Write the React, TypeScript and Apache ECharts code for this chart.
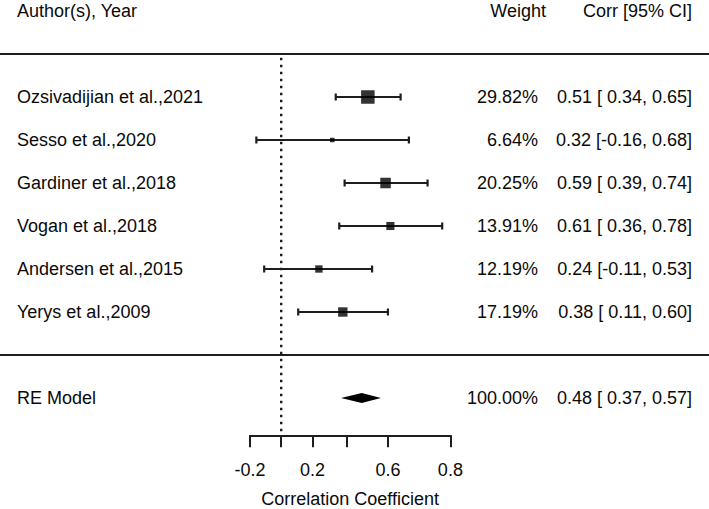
import React, { useEffect, useRef } from "react";
import * as echarts from "echarts";

const studies = [
  "Ozsivadijian et al.,2021",
  "Sesso et al.,2020",
  "Gardiner et al.,2018",
  "Vogan et al.,2018",
  "Andersen et al.,2015",
  "Yerys et al.,2009",
];
const weights = [29.82, 6.64, 20.25, 13.91, 12.19, 17.19];
const corr = [0.51, 0.32, 0.59, 0.61, 0.24, 0.38];
const lower = [0.34, -0.16, 0.39, 0.36, -0.11, 0.11];
const upper = [0.65, 0.68, 0.74, 0.78, 0.53, 0.6];

const reLabel = "RE Model";
const reWeight = 100;
const reCorr = 0.48;
const reLower = 0.37;
const reUpper = 0.57;

const headers = ["Author(s), Year", "Weight", "Corr [95% CI]"];
const tickValues = [-0.2, 0, 0.2, 0.4, 0.6, 0.8];
const labelValues = [-0.2, 0.2, 0.6, 0.8];
const axisTitle = "Correlation Coefficient";

// layout
const W = 709;
const H = 509;
const X0 = 281.2; // pixel of z = 0
const PX = 154; // pixels per z unit
const Y0 = 355; // pixel of row 0
const PY = 43; // pixels per row
const FS = 18;
const FONT = "'Liberation Sans', Arial, Helvetica, sans-serif";
const INK = "#0a0a0a";
const LINE = "#1e1e1e";

const z = (r: number) => Math.atanh(r);
const fmt2 = (v: number) => (v < 0 ? "" : " ") + v.toFixed(2);
const corrText = (e: number, l: number, u: number) =>
  `${e.toFixed(2)} [${fmt2(l)}, ${u.toFixed(2)}]`;

export default function App() {
  const ref = useRef<HTMLDivElement>(null);
  useEffect(() => {
    if (!ref.current) return;
    const chart = echarts.init(ref.current, null, { renderer: "svg" });
    const k = studies.length;
    const rows = studies.map((_, i) => k - i);
    const xMin = -X0 / PX;
    const xMax = (W - X0) / PX;
    const yMax = Y0 / PY;
    const yMin = (Y0 - H) / PY;

    const sq = weights.map((w) => Math.sqrt(w));
    const sMin = Math.min(...sq);
    const sMax = Math.max(...sq);
    const sizeOf = (w: number) => 4.5 + ((Math.sqrt(w) - sMin) / (sMax - sMin)) * 9;

    const axisLeft = X0 + PX * z(tickValues[0]);
    const axisRight = X0 + PX * z(tickValues[tickValues.length - 1]);

    const textRows = studies.map((s, i) => [
      rows[i],
      s,
      weights[i].toFixed(2) + "%",
      corrText(corr[i], lower[i], upper[i]),
    ]);
    textRows.push([-1, reLabel, reWeight.toFixed(2) + "%", corrText(reCorr, reLower, reUpper)]);

    const textStyle = (t: string, x: number, y: number, align: string) => ({
      type: "text",
      x,
      y,
      style: {
        text: t,
        fill: INK,
        font: `${FS}px ${FONT}`,
        textAlign: align,
        textVerticalAlign: "middle",
      },
    });

    const option: any = {
      animation: false,
      grid: [
        { left: 0, top: 0, width: W, height: H },
        { left: axisLeft, width: axisRight - axisLeft, top: 435, height: 1 },
      ],
      xAxis: [
        { gridIndex: 0, type: "value", min: xMin, max: xMax, show: false },
        {
          gridIndex: 1,
          type: "value",
          min: z(tickValues[0]),
          max: z(tickValues[tickValues.length - 1]),
          position: "bottom",
          axisLine: { show: true, lineStyle: { color: LINE, width: 2 } },
          axisTick: {
            show: true,
            length: 12,
            lineStyle: { color: LINE, width: 2 },
            customValues: tickValues.map(z),
          },
          axisLabel: {
            show: true,
            customValues: labelValues.map(z),
            formatter: (v: number) => Math.tanh(v).toFixed(1),
            fontSize: FS,
            fontFamily: FONT,
            color: INK,
            margin: 26,
          },
          splitLine: { show: false },
          name: axisTitle,
          nameLocation: "middle",
          nameGap: 55,
          nameTextStyle: { fontSize: FS, fontFamily: FONT, color: INK },
        },
      ],
      yAxis: [
        { gridIndex: 0, type: "value", min: yMin, max: yMax, show: false },
        { gridIndex: 1, type: "value", min: 0, max: 1, show: false },
      ],
      series: [
        {
          type: "line",
          silent: true,
          symbol: "none",
          data: [
            [xMin, k + 1],
            [xMax, k + 1],
          ],
          lineStyle: { color: LINE, width: 2 },
        },
        {
          type: "line",
          silent: true,
          symbol: "none",
          data: [
            [xMin, 0],
            [xMax, 0],
          ],
          lineStyle: { color: LINE, width: 2 },
        },
        {
          type: "line",
          silent: true,
          symbol: "none",
          data: [
            [0, k + 0.91],
            [0, -1.82],
          ],
          lineStyle: { color: LINE, width: 2.4, type: [2.4, 4.6] },
        },
        {
          type: "custom",
          silent: true,
          data: studies.map((_, i) => [z(lower[i]), z(upper[i]), rows[i]]),
          encode: { x: [0, 1], y: 2 },
          renderItem: (params: any, api: any) => {
            const a = api.coord([api.value(0), api.value(2)]);
            const b = api.coord([api.value(1), api.value(2)]);
            const st = { stroke: LINE, lineWidth: 2.2 };
            return {
              type: "group",
              children: [
                { type: "line", shape: { x1: a[0], y1: a[1], x2: b[0], y2: b[1] }, style: st },
                { type: "line", shape: { x1: a[0], y1: a[1] - 3.5, x2: a[0], y2: a[1] + 3.5 }, style: st },
                { type: "line", shape: { x1: b[0], y1: b[1] - 3.5, x2: b[0], y2: b[1] + 3.5 }, style: st },
              ],
            };
          },
        },
        {
          type: "scatter",
          silent: true,
          symbol: "rect",
          data: studies.map((_, i) => [z(corr[i]), rows[i], weights[i]]),
          symbolSize: (v: number[]) => sizeOf(v[2]),
          itemStyle: { color: "#000" },
        },
        {
          type: "custom",
          silent: true,
          data: [[z(reLower), z(reCorr), z(reUpper), -1]],
          encode: { x: [0, 1, 2], y: 3 },
          renderItem: (params: any, api: any) => {
            const l = api.coord([api.value(0), api.value(3)]);
            const c = api.coord([api.value(1), api.value(3)]);
            const u = api.coord([api.value(2), api.value(3)]);
            return {
              type: "polygon",
              shape: {
                points: [
                  [l[0], l[1]],
                  [c[0], c[1] - 5],
                  [u[0], u[1]],
                  [c[0], c[1] + 5],
                ],
              },
              style: { fill: "#000" },
            };
          },
        },
        {
          type: "custom",
          silent: true,
          data: textRows,
          encode: { y: 0 },
          renderItem: (params: any, api: any) => {
            const row = textRows[params.dataIndex];
            const y = api.coord([0, row[0] as number])[1];
            return {
              type: "group",
              children: [
                textStyle(row[1] as string, 17, y, "left"),
                textStyle(row[2] as string, 538, y, "right"),
                textStyle(row[3] as string, 692, y, "right"),
              ],
            };
          },
        },
        {
          type: "custom",
          silent: true,
          data: [[k + 2]],
          encode: { y: 0 },
          renderItem: (params: any, api: any) => {
            const y = api.coord([0, api.value(0)])[1];
            return {
              type: "group",
              children: [
                textStyle(headers[0], 17, y, "left"),
                textStyle(headers[1], 546, y, "right"),
                textStyle(headers[2], 692, y, "right"),
              ],
            };
          },
        },
      ],
    };
    chart.setOption(option);
    return () => chart.dispose();
  }, []);
  return (
    <div
      ref={ref}
      style={{ position: "absolute", left: 0, top: 0, width: W, height: H, background: "#fff" }}
    />
  );
}
